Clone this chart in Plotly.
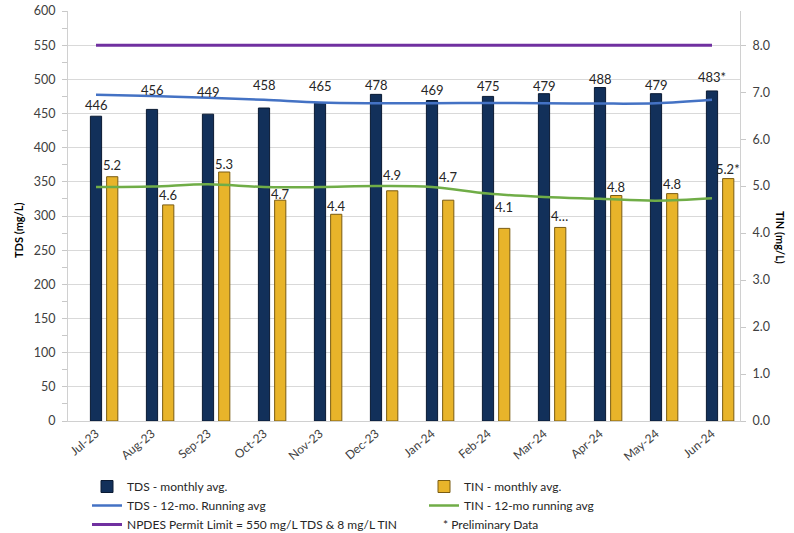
import plotly.graph_objects as go

months = ["Jul-23", "Aug-23", "Sep-23", "Oct-23", "Nov-23", "Dec-23",
          "Jan-24", "Feb-24", "Mar-24", "Apr-24", "May-24", "Jun-24"]
tds_monthly = [446, 456, 449, 458, 465, 478, 469, 475, 479, 488, 479, 483]
tds_labels = ["446", "456", "449", "458", "465", "478", "469", "475", "479", "488", "479", "483*"]
tin_monthly = [5.2, 4.6, 5.3, 4.7, 4.4, 4.9, 4.7, 4.1, 4.12, 4.8, 4.84, 5.16]
tin_labels = ["5.2", "4.6", "5.3", "4.7", "4.4", "4.9", "4.7", "4.1", "4…", "4.8", "4.8", "5.2*"]
tds_running = [477.5, 475.5, 473, 470, 466, 465, 465, 465.5, 465, 464.5, 465, 470]
tin_running = [4.98, 4.99, 5.04, 4.98, 4.98, 5.0, 4.98, 4.84, 4.77, 4.73, 4.69, 4.74]
npdes_tds = [550, 550, 550, 550, 550, 550, 550, 550, 550, 550, 550, 550]

# style constants (pixels above bar top for each data label)
tds_label_dy = [11, 19, 22, 23, 17, 9, 11, 10, 8, 9, 9, 14]
tin_label_dy = [12, 10, 8, 6, 8, 16, 23, 21, 11, 9, 10, 10]

# page layout (body margin removed via post_script)
W, H = 794, 533
PL, PT, PR, PB = 68, 11, 740, 421          # plot area in page pixels
ML, MT = PL, PT
MR, MB = W - PR, H - PB
PW, PH = PR - PL, PB - PT


def px_x(x):
    return (x - PL) / PW


def px_y(y):
    return (PB - y) / PH


bar_w = 0.2
tds_off = -0.1
tin_off = 0.19
tin_shift_px = (tin_off + bar_w / 2) * PW / len(months)

FONT = "Lato"
TXT = "#262626"

fig = go.Figure()
fig.add_trace(go.Bar(
    x=months, y=tds_monthly, name="TDS - monthly avg.", yaxis="y",
    width=bar_w, offset=tds_off,
    marker=dict(color="#12305a", line=dict(color="#0a1a33", width=1)),
))
fig.add_trace(go.Bar(
    x=months, y=tin_monthly, name="TIN - monthly avg.", yaxis="y2",
    width=bar_w, offset=tin_off,
    marker=dict(color="#e8b42a", line=dict(color="#7a5c12", width=1)),
))
fig.add_trace(go.Scatter(
    x=months, y=tds_running, name="TDS - 12-mo. Running avg", yaxis="y",
    mode="lines", line=dict(color="#4472c4", width=2.5, shape="spline"),
))
fig.add_trace(go.Scatter(
    x=months, y=tin_running, name="TIN - 12-mo running avg", yaxis="y2",
    mode="lines", line=dict(color="#70ad47", width=2.5, shape="spline"),
))
fig.add_trace(go.Scatter(
    x=months, y=npdes_tds, name="NPDES Permit Limit = 550 mg/L TDS & 8 mg/L TIN", yaxis="y",
    mode="lines", line=dict(color="#7030a0", width=3),
))

annotations = []
for m, v, t, dy in zip(months, tds_monthly, tds_labels, tds_label_dy):
    annotations.append(dict(x=m, y=v, xref="x", yref="y", text=t, showarrow=False,
                            yanchor="middle", yshift=dy,
                            font=dict(family=FONT, size=13, color=TXT)))
for m, v, t, dy in zip(months, tin_monthly, tin_labels, tin_label_dy):
    annotations.append(dict(x=m, y=v, xref="x", yref="y2", text=t, showarrow=False,
                            yanchor="middle", yshift=dy, xshift=tin_shift_px,
                            font=dict(family=FONT, size=13, color=TXT)))
annotations.append(dict(x=px_x(18), y=px_y(230), xref="paper", yref="paper",
                        xanchor="center", yanchor="middle",
                        text="<b>TDS (mg/L)</b>", textangle=-90, showarrow=False,
                        font=dict(family=FONT, size=11, color="#000")))
annotations.append(dict(x=px_x(781), y=px_y(238), xref="paper", yref="paper",
                        xanchor="center", yanchor="middle",
                        text="<b>TIN (mg/L)</b>", textangle=90, showarrow=False,
                        font=dict(family=FONT, size=11, color="#000")))
annotations.append(dict(x=px_x(441), y=px_y(524), xref="paper", yref="paper",
                        text="* Preliminary Data", showarrow=False, xanchor="left", yanchor="middle",
                        font=dict(family=FONT, size=12, color=TXT)))

fig.update_layout(
    width=W, height=H, autosize=False,
    margin=dict(l=ML, r=MR, t=MT, b=MB, pad=0, autoexpand=False),
    paper_bgcolor="white", plot_bgcolor="white",
    font=dict(family=FONT, size=12, color="#404040"),
    barmode="overlay",
    showlegend=True,
    legend=dict(orientation="h", x=px_x(87), xanchor="left",
                y=px_y(472), yanchor="top",
                entrywidth=292, entrywidthmode="pixels",
                font=dict(family=FONT, size=12, color=TXT),
                bgcolor="rgba(0,0,0,0)", traceorder="normal"),
    xaxis=dict(type="category", tickangle=-40, showgrid=False, showline=True,
               linecolor="#d0d0d0", ticks="", range=[-0.5, 11.5],
               tickfont=dict(family=FONT, size=12, color="#404040")),
    yaxis=dict(range=[0, 600], dtick=50, showgrid=True, gridcolor="#d9d9d9",
               showline=True, linecolor="#d0d0d0", ticks="outside", ticklen=5,
               tickcolor="#c8c8c8", zeroline=False, ticklabelstandoff=4,
               ticklabeloverflow="allow",
               minor=dict(dtick=25, ticks="outside", ticklen=5, tickcolor="#c8c8c8", showgrid=False),
               tickfont=dict(family=FONT, size=12.5, color="#404040")),
    yaxis2=dict(range=[0, 600 * 8 / 550], tickvals=[0, 1, 2, 3, 4, 5, 6, 7, 8],
                tickformat=".1f", overlaying="y", side="right", showgrid=False,
                showline=True, linecolor="#d0d0d0", ticks="outside", ticklen=5,
                tickcolor="#c8c8c8", zeroline=False, ticklabelstandoff=4,
                ticklabeloverflow="allow",
                tickfont=dict(family=FONT, size=12.5, color="#404040")),
    annotations=annotations,
)

fig.write_html("out.html",
               config={"displayModeBar": False},
               post_script="document.body.style.margin='0';document.body.style.overflow='hidden';")
